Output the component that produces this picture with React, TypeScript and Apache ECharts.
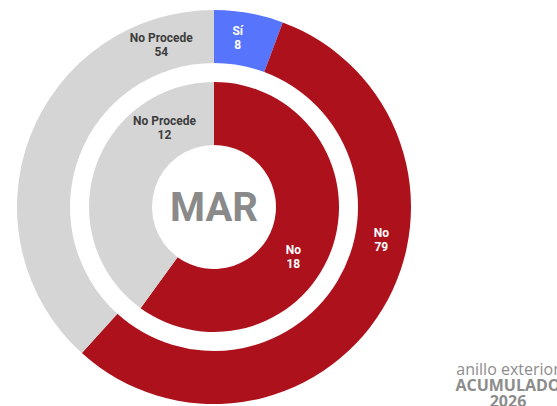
import React, { useEffect, useRef } from "react";
import * as echarts from "echarts";

// ---- data ----
const outerCategories = ["Sí", "No", "No Procede"];
const outerValues = [8, 79, 54];
const innerCategories = ["No", "No Procede"];
const innerValues = [18, 12];
const centerLabel = "MAR";
const legendLines = ["anillo exterior", "ACUMULADO", "2026"];

// ---- style ----
const colorMap: Record<string, string> = {
  "Sí": "#5674FC",
  "No": "#AD111C",
  "No Procede": "#D5D5D5",
};
const labelColorMap: Record<string, string> = {
  "Sí": "#ffffff",
  "No": "#ffffff",
  "No Procede": "#3d3d3d",
};
const CX = 214;
const CY = 207;
const OUTER_R: [number, number] = [144, 197];
const INNER_R: [number, number] = [62, 125];
// label angle (degrees clockwise from top) per slice
const outerLabelAngles = [8, 101, 342];
const innerLabelAngles = [122, 328];

export default function App() {
  const ref = useRef<HTMLDivElement>(null);
  useEffect(() => {
    if (!ref.current) return;
    const chart = echarts.init(ref.current, undefined, { renderer: "svg" });

    const mkData = (cats: string[], vals: number[]) =>
      cats.map((c, i) => ({
        name: c,
        value: vals[i],
        itemStyle: { color: colorMap[c] },
        label: { color: labelColorMap[c] },
      }));

    const layoutFor = (angles: number[], radii: [number, number]) => (params: any) => {
      const a = (angles[params.dataIndex] * Math.PI) / 180;
      const r = (radii[0] + radii[1]) / 2;
      return {
        x: CX + r * Math.sin(a),
        y: CY - r * Math.cos(a),
        align: "center",
        verticalAlign: "middle",
      };
    };

    const labelBase = {
      show: true,
      position: "inside",
      formatter: "{b}\n{c}",
      fontFamily: "Roboto",
      fontWeight: "bold",
      fontSize: 12,
      lineHeight: 14,
    };

    chart.setOption({
      animation: false,
      backgroundColor: "#ffffff",
      series: [
        {
          type: "pie",
          center: [CX, CY],
          radius: OUTER_R,
          startAngle: 90,
          clockwise: true,
          avoidLabelOverlap: false,
          label: labelBase,
          labelLine: { show: false },
          labelLayout: layoutFor(outerLabelAngles, OUTER_R),
          emphasis: { disabled: true },
          data: mkData(outerCategories, outerValues),
        },
        {
          type: "pie",
          center: [CX, CY],
          radius: INNER_R,
          startAngle: 90,
          clockwise: true,
          avoidLabelOverlap: false,
          label: labelBase,
          labelLine: { show: false },
          labelLayout: layoutFor(innerLabelAngles, INNER_R),
          emphasis: { disabled: true },
          data: mkData(innerCategories, innerValues),
        },
      ],
      graphic: [
        {
          type: "text",
          x: CX,
          y: CY,
          style: {
            text: centerLabel,
            fill: "#8a8a8a",
            fontFamily: "Roboto",
            fontWeight: "bold",
            fontSize: 40,
            align: "center",
            verticalAlign: "middle",
          },
        },
        {
          type: "text",
          x: 508,
          y: 360,
          style: {
            text: `{a|${legendLines[0]}}\n{b|${legendLines[1]}}\n{b|${legendLines[2]}}`,
            align: "center",
            verticalAlign: "top",
            rich: {
              a: {
                fill: "#8c8c8c",
                fontFamily: "Open Sans",
                fontSize: 16,
                lineHeight: 17,
                align: "center",
              },
              b: {
                fill: "#8c8c8c",
                fontFamily: "Open Sans",
                fontWeight: "bold",
                fontSize: 16,
                lineHeight: 16,
                align: "center",
              },
            },
          },
        },
      ],
    });
    return () => chart.dispose();
  }, []);

  return (
    <div
      ref={ref}
      style={{ position: "absolute", left: 0, top: 0, width: 557, height: 406 }}
    />
  );
}
